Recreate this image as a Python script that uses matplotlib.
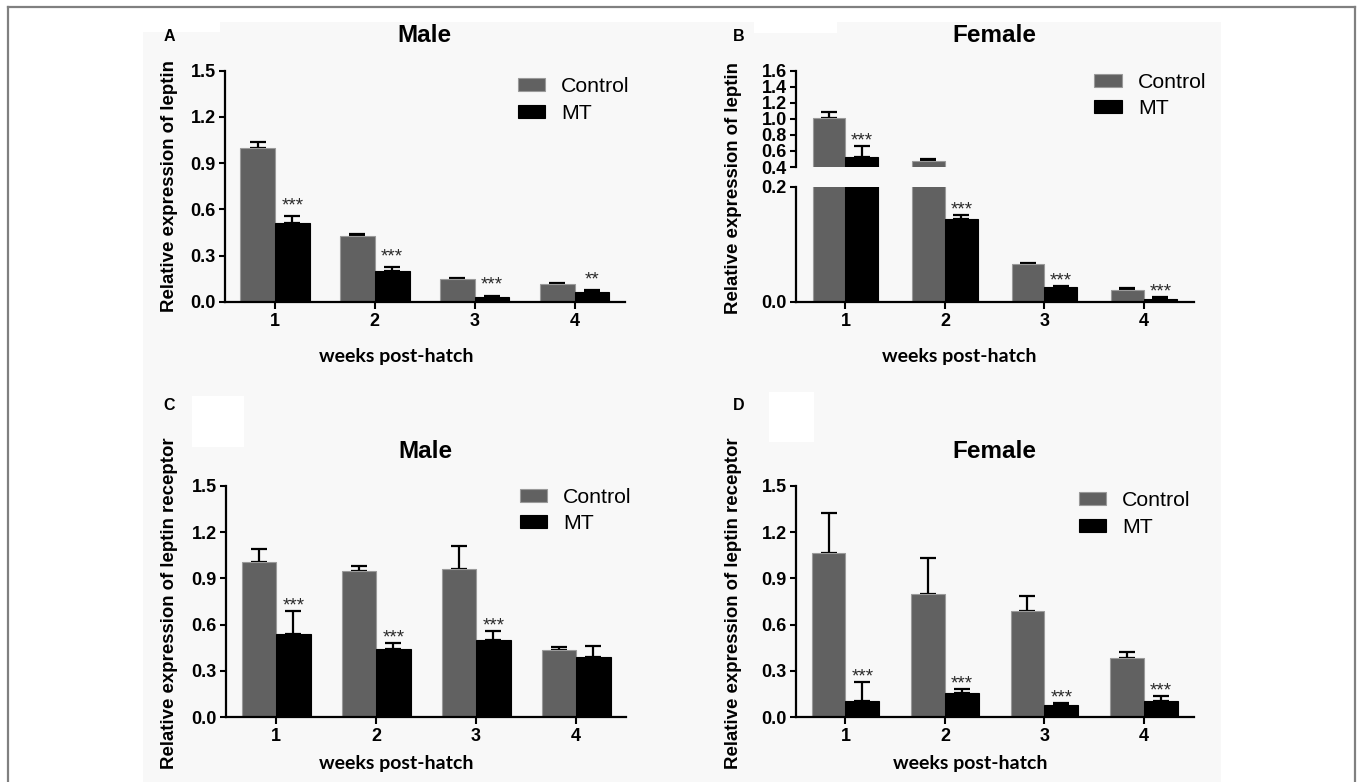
import matplotlib
matplotlib.use('Agg')
import matplotlib.pyplot as plt
from matplotlib.patches import Rectangle
from matplotlib.lines import Line2D
import numpy as np

plt.rcParams['font.family'] = ['Liberation Sans', 'DejaVu Sans']

# ---------------- data ----------------
weeks = ['1', '2', '3', '4']
series_names = ['Control', 'MT']

# A: leptin, male
A_ctrl = [1.00, 0.426, 0.147, 0.117]
A_ctrl_err = [0.038, 0.012, 0.008, 0.006]
A_mt = [0.51, 0.203, 0.032, 0.067]
A_mt_err = [0.048, 0.022, 0.010, 0.012]
A_sig = ['***', '***', '***', '**']
A_yticks = [0.0, 0.3, 0.6, 0.9, 1.2, 1.5]

# B: leptin, female (broken axis)
B_ctrl = [1.006, 0.469, 0.0655, 0.020]
B_ctrl_err = [0.082, 0.025, 0.0025, 0.0047]
B_mt = [0.53, 0.144, 0.026, 0.0057]
B_mt_err = [0.13, 0.006, 0.0016, 0.0023]
B_sig = ['***', '***', '***', '***']
B_top_yticks = [0.4, 0.6, 0.8, 1.0, 1.2, 1.4, 1.6]
B_bot_yticks = [0.0, 0.2]

# C: leptin receptor, male
C_ctrl = [1.008, 0.948, 0.963, 0.434]
C_ctrl_err = [0.082, 0.032, 0.146, 0.024]
C_mt = [0.542, 0.445, 0.501, 0.393]
C_mt_err = [0.147, 0.034, 0.060, 0.071]
C_sig = ['***', '***', '***', '']
C_yticks = [0.0, 0.3, 0.6, 0.9, 1.2, 1.5]

# D: leptin receptor, female
D_ctrl = [1.064, 0.799, 0.689, 0.386]
D_ctrl_err = [0.259, 0.231, 0.097, 0.035]
D_mt = [0.106, 0.155, 0.080, 0.104]
D_mt_err = [0.123, 0.026, 0.011, 0.036]
D_sig = ['***', '***', '***', '***']
D_yticks = [0.0, 0.3, 0.6, 0.9, 1.2, 1.5]

# ---------------- style ----------------
W, H = 1358, 782
CTRL_COLOR = '#616161'
TICK_FS = 13
LABEL_FS = 13.4
TITLE_FS = 17.5
LEG_FS = 15.3
STAR_FS = 13.5
XLAB_FS = 14

fig = plt.figure(figsize=(W / 100, H / 100), dpi=100)
fig.patch.set_facecolor('white')


def frac(px, py):
    return px / W, 1 - py / H


def add_rect(x0, y0, x1, y1, color, z):
    fig.patches.append(Rectangle(frac(x0, y1), (x1 - x0) / W, (y1 - y0) / H,
                                 transform=fig.transFigure, fc=color, ec='none', zorder=z))


# background panel + white patches + frame
add_rect(143, 22, 1221, 782, '#f8f8f8', -10)
add_rect(143, 22, 220, 32, 'white', -9)
add_rect(754, 22, 837, 33, 'white', -9)
add_rect(192, 396, 244, 447, 'white', -9)
add_rect(769, 392, 814, 442, 'white', -9)
for xs, ys in [([7.5, 7.5], [782, 6.5]), ([7.5, 1354.5], [6.5, 6.5]), ([1354.5, 1354.5], [6.5, 782])]:
    fig.lines.append(Line2D([x / W for x in xs], [1 - y / H for y in ys],
                            transform=fig.transFigure, color='#808080', lw=1.6))


def add_axes(x0, x1, ytop, ybot):
    return fig.add_axes([x0 / W, 1 - ybot / H, (x1 - x0) / W, (ybot - ytop) / H])


def to_axes(ax, px, py):
    b = ax.get_position()
    xf, yf = frac(px, py)
    return (xf - b.x0) / b.width, (yf - b.y0) / b.height


def style(ax, yticks, show_x=True):
    ax.set_facecolor('none')
    for s in ['top', 'right']:
        ax.spines[s].set_visible(False)
    for s in ['left', 'bottom']:
        ax.spines[s].set_linewidth(1.6)
    ax.set_ylim(yticks[0], yticks[-1])
    ax.set_yticks(yticks)
    ax.set_yticklabels([f'{t:.1f}' for t in yticks], fontweight='bold')
    ax.set_xlim(0.5, 4.5)
    x = np.arange(1, len(weeks) + 1)
    if show_x:
        ax.set_xticks(x)
        ax.set_xticklabels(weeks, fontweight='bold')
    else:
        ax.set_xticks([])
        ax.spines['bottom'].set_visible(False)
    ax.tick_params(axis='y', length=4.5, width=1.5, pad=2, labelsize=TICK_FS)
    ax.tick_params(axis='x', length=5, width=1.5, pad=3, labelsize=TICK_FS)


def bars(ax, ctrl, ctrl_err, mt, mt_err, width):
    x = np.arange(1, len(weeks) + 1)
    b1 = ax.bar(x - width / 2, ctrl, width, color=CTRL_COLOR, edgecolor='#9a9a9a',
                linewidth=0.8, zorder=2)
    b2 = ax.bar(x + width / 2, mt, width, color='black', edgecolor='black',
                linewidth=0.8, zorder=2)
    z = np.zeros(len(x))
    ax.errorbar(x - width / 2, ctrl, yerr=[z, ctrl_err], fmt='none', ecolor='black',
                elinewidth=1.6, capsize=5.5, capthick=1.6, zorder=1.5)
    ax.errorbar(x + width / 2, mt, yerr=[z, mt_err], fmt='none', ecolor='black',
                elinewidth=1.6, capsize=5.5, capthick=1.6, zorder=1.5)
    return b1, b2


def stars(axes_list, mt, mt_err, sig, width, off):
    x = np.arange(1, len(weeks) + 1)
    for i, s in enumerate(sig):
        if not s:
            continue
        y = mt[i] + mt_err[i]
        ax = axes_list[0]
        for a in axes_list:
            lo, hi = a.get_ylim()
            if lo <= y <= hi:
                ax = a
        ax.annotate(s, xy=(x[i] + width / 2, y), xytext=(0, off), textcoords='offset points',
                    ha='center', va='baseline', fontsize=STAR_FS, color='#2a2a2a',
                    annotation_clip=False)


def legend(ax, handles, px, py):
    ax.legend(handles=handles, labels=series_names, loc='upper left',
              bbox_to_anchor=frac(px, py), bbox_transform=fig.transFigure,
              frameon=False, fontsize=LEG_FS, handlelength=1.29, handleheight=0.565,
              handletextpad=0.76, labelspacing=0.34, borderpad=0, borderaxespad=0)


def labels(ax_title, ax_lab, letter, title, ylabel, pl, pt, py_lab, px_lab):
    fig.text(*frac(*pl), letter, ha='center', va='center', fontsize=11.5, fontweight='bold')
    tx, ty = to_axes(ax_title, *pt)
    ax_title.set_title(title, fontsize=TITLE_FS, fontweight='bold', x=tx, y=ty, va='center', pad=0)
    ax_lab.set_ylabel(ylabel, fontsize=LABEL_FS, fontweight='bold', va='center', ha='center')
    ax_lab.yaxis.set_label_coords(*frac(*py_lab), transform=fig.transFigure)
    ax_lab.set_xlabel('weeks post-hatch', fontsize=XLAB_FS, fontweight='bold',
                      family=['Lato', 'DejaVu Sans'], va='center', ha='center')
    ax_lab.xaxis.set_label_coords(*frac(*px_lab), transform=fig.transFigure)


# ---------------- Panel A ----------------
axA = add_axes(225, 624.5, 70.7, 302)
style(axA, A_yticks)
h = bars(axA, A_ctrl, A_ctrl_err, A_mt, A_mt_err, 0.348)
stars([axA], A_mt, A_mt_err, A_sig, 0.348, 4)
legend(axA, h, 517.8, 77.5)
labels(axA, axA, 'A', 'Male', 'Relative expression of leptin',
       (169, 36.5), (424.4, 36), (169, 186.5), (396.2, 356.7))

# ---------------- Panel B (broken axis) ----------------
axBt = add_axes(795.7, 1193.6, 70.7, 167)
axBb = add_axes(795.7, 1193.6, 186.5, 302)
style(axBt, B_top_yticks, show_x=False)
style(axBb, B_bot_yticks)
h = bars(axBt, B_ctrl, B_ctrl_err, B_mt, B_mt_err, 0.33)
bars(axBb, B_ctrl, B_ctrl_err, B_mt, B_mt_err, 0.33)
stars([axBb, axBt], B_mt, B_mt_err, B_sig, 0.33, 0.5)
legend(axBt, h, 1094.3, 73)
labels(axBt, axBb, 'B', 'Female', 'Relative expression of leptin',
       (739, 36.5), (994.6, 36), (733, 188), (959.6, 356))

# ---------------- Panel C ----------------
axC = add_axes(226, 626, 485.7, 717.3)
style(axC, C_yticks)
h = bars(axC, C_ctrl, C_ctrl_err, C_mt, C_mt_err, 0.345)
stars([axC], C_mt, C_mt_err, C_sig, 0.345, 0.5)
legend(axC, h, 519.5, 488)
labels(axC, axC, 'C', 'Male', 'Relative expression of leptin receptor',
       (169, 405.7), (425.5, 451.7), (169, 603.5), (396.2, 764))

# ---------------- Panel D ----------------
axD = add_axes(795.7, 1193.6, 485.7, 717.3)
style(axD, D_yticks)
h = bars(axD, D_ctrl, D_ctrl_err, D_mt, D_mt_err, 0.34)
stars([axD], D_mt, D_mt_err, D_sig, 0.34, 0.5)
legend(axD, h, 1078.6, 491.5)
labels(axD, axD, 'D', 'Female', 'Relative expression of leptin receptor',
       (739, 405.7), (994.6, 451.7), (733, 603), (970.4, 764))

fig.savefig('out.png', dpi=100)
